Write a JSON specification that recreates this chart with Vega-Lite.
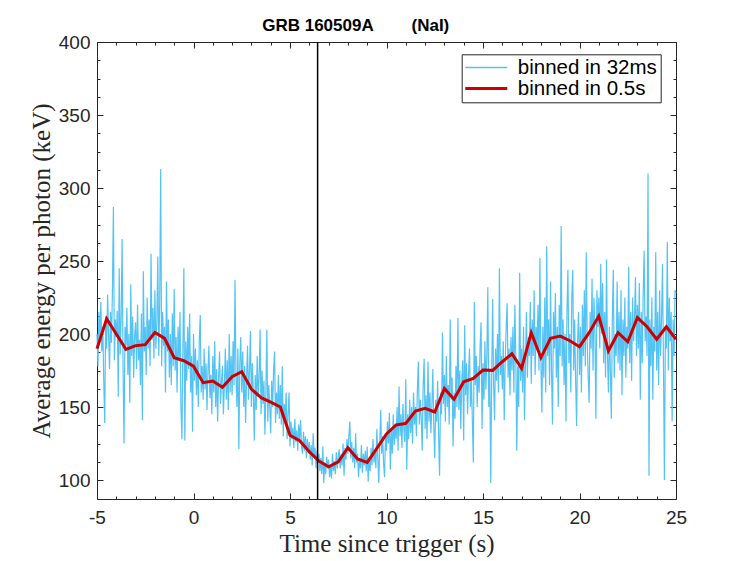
{
  "$schema": "https://vega.github.io/schema/vega-lite/v6.json",
  "width": 579,
  "height": 457,
  "autosize": {"type": "none"},
  "padding": {"left": 97, "top": 42, "right": 71, "bottom": 62},
  "background": "white",
  "datasets": {
    "coarse": [
      {"t": -5, "e": 190}, {"t": -4.5, "e": 210.5}, {"t": -4, "e": 200}, {"t": -3.5, "e": 189.5},
      {"t": -3, "e": 192}, {"t": -2.5, "e": 192.7}, {"t": -2, "e": 201}, {"t": -1.5, "e": 197},
      {"t": -1, "e": 183.8}, {"t": -0.5, "e": 181.7}, {"t": 0, "e": 178}, {"t": 0.5, "e": 166.7},
      {"t": 1, "e": 167.8}, {"t": 1.5, "e": 163.5}, {"t": 2, "e": 170.8}, {"t": 2.5, "e": 174.2},
      {"t": 3, "e": 162.3}, {"t": 3.5, "e": 156.4}, {"t": 4, "e": 153.4}, {"t": 4.5, "e": 150},
      {"t": 5, "e": 130.6}, {"t": 5.5, "e": 126.9}, {"t": 6, "e": 119.4}, {"t": 6.5, "e": 113},
      {"t": 7, "e": 109.1}, {"t": 7.5, "e": 112.5}, {"t": 8, "e": 122.1}, {"t": 8.5, "e": 114.4},
      {"t": 9, "e": 112.1}, {"t": 9.5, "e": 121.7}, {"t": 10, "e": 131.5}, {"t": 10.5, "e": 137.7},
      {"t": 11, "e": 138.8}, {"t": 11.5, "e": 147.3}, {"t": 12, "e": 149.1}, {"t": 12.5, "e": 146.6},
      {"t": 13, "e": 162.6}, {"t": 13.5, "e": 155.3}, {"t": 14, "e": 167.3}, {"t": 14.5, "e": 169.6},
      {"t": 15, "e": 175.3}, {"t": 15.5, "e": 175.1}, {"t": 16, "e": 181}, {"t": 16.5, "e": 186.5},
      {"t": 17, "e": 176.5}, {"t": 17.5, "e": 200.9}, {"t": 18, "e": 183.8}, {"t": 18.5, "e": 197},
      {"t": 19, "e": 198.6}, {"t": 19.5, "e": 195.4}, {"t": 20, "e": 191.3}, {"t": 20.5, "e": 200.9},
      {"t": 21, "e": 212.3}, {"t": 21.5, "e": 188.4}, {"t": 22, "e": 200.9}, {"t": 22.5, "e": 194.7},
      {"t": 23, "e": 211.2}, {"t": 23.5, "e": 205}, {"t": 24, "e": 196.4}, {"t": 24.5, "e": 205},
      {"t": 25, "e": 196.4}
    ],
    "trigger": [{"t": 6.43}],
    "fine": [
      {"t": -5, "e": 200}, {"t": -4.95, "e": 178}, {"t": -4.9, "e": 215}, {"t": -4.85, "e": 195}, {"t": -4.8, "e": 222},
      {"t": -4.75, "e": 188}, {"t": -4.7, "e": 205}, {"t": -4.65, "e": 168}, {"t": -4.6, "e": 139}, {"t": -4.55, "e": 212},
      {"t": -4.5, "e": 190}, {"t": -4.45, "e": 227}, {"t": -4.4, "e": 200}, {"t": -4.35, "e": 176}, {"t": -4.3, "e": 215},
      {"t": -4.25, "e": 194}, {"t": -4.2, "e": 230}, {"t": -4.15, "e": 287}, {"t": -4.1, "e": 182}, {"t": -4.05, "e": 210},
      {"t": -4, "e": 198}, {"t": -3.95, "e": 216}, {"t": -3.9, "e": 157}, {"t": -3.85, "e": 245}, {"t": -3.8, "e": 186},
      {"t": -3.75, "e": 210}, {"t": -3.7, "e": 265}, {"t": -3.65, "e": 178}, {"t": -3.6, "e": 125}, {"t": -3.55, "e": 205},
      {"t": -3.5, "e": 192}, {"t": -3.45, "e": 218}, {"t": -3.4, "e": 172}, {"t": -3.35, "e": 200}, {"t": -3.3, "e": 153},
      {"t": -3.25, "e": 234}, {"t": -3.2, "e": 185}, {"t": -3.15, "e": 212}, {"t": -3.1, "e": 170}, {"t": -3.05, "e": 199},
      {"t": -3, "e": 208}, {"t": -2.95, "e": 176}, {"t": -2.9, "e": 220}, {"t": -2.85, "e": 182}, {"t": -2.8, "e": 196},
      {"t": -2.75, "e": 165}, {"t": -2.7, "e": 214}, {"t": -2.65, "e": 141}, {"t": -2.6, "e": 243}, {"t": -2.55, "e": 188},
      {"t": -2.5, "e": 205}, {"t": -2.45, "e": 172}, {"t": -2.4, "e": 225}, {"t": -2.35, "e": 190}, {"t": -2.3, "e": 210},
      {"t": -2.25, "e": 178}, {"t": -2.2, "e": 255}, {"t": -2.15, "e": 196}, {"t": -2.1, "e": 218}, {"t": -2.05, "e": 183},
      {"t": -2, "e": 230}, {"t": -1.95, "e": 190}, {"t": -1.9, "e": 207}, {"t": -1.85, "e": 253}, {"t": -1.8, "e": 185},
      {"t": -1.75, "e": 222}, {"t": -1.7, "e": 313}, {"t": -1.65, "e": 178}, {"t": -1.6, "e": 215}, {"t": -1.55, "e": 192},
      {"t": -1.5, "e": 205}, {"t": -1.45, "e": 160}, {"t": -1.4, "e": 236}, {"t": -1.35, "e": 188}, {"t": -1.3, "e": 210},
      {"t": -1.25, "e": 170}, {"t": -1.2, "e": 200}, {"t": -1.15, "e": 165}, {"t": -1.1, "e": 214}, {"t": -1.05, "e": 178},
      {"t": -1, "e": 231}, {"t": -0.95, "e": 175}, {"t": -0.9, "e": 198}, {"t": -0.85, "e": 160}, {"t": -0.8, "e": 205},
      {"t": -0.75, "e": 182}, {"t": -0.7, "e": 215}, {"t": -0.65, "e": 150}, {"t": -0.6, "e": 128}, {"t": -0.55, "e": 190},
      {"t": -0.5, "e": 245}, {"t": -0.45, "e": 127}, {"t": -0.4, "e": 195}, {"t": -0.35, "e": 168}, {"t": -0.3, "e": 205},
      {"t": -0.25, "e": 176}, {"t": -0.2, "e": 214}, {"t": -0.15, "e": 160}, {"t": -0.1, "e": 185}, {"t": -0.05, "e": 133},
      {"t": 0, "e": 200}, {"t": 0.05, "e": 168}, {"t": 0.1, "e": 190}, {"t": 0.15, "e": 158}, {"t": 0.2, "e": 182},
      {"t": 0.25, "e": 150}, {"t": 0.3, "e": 196}, {"t": 0.35, "e": 213}, {"t": 0.4, "e": 160}, {"t": 0.45, "e": 178},
      {"t": 0.5, "e": 155}, {"t": 0.55, "e": 190}, {"t": 0.6, "e": 162}, {"t": 0.65, "e": 180}, {"t": 0.7, "e": 148},
      {"t": 0.75, "e": 175}, {"t": 0.8, "e": 192}, {"t": 0.85, "e": 156}, {"t": 0.9, "e": 172}, {"t": 0.95, "e": 145},
      {"t": 1, "e": 185}, {"t": 1.05, "e": 160}, {"t": 1.1, "e": 195}, {"t": 1.15, "e": 150}, {"t": 1.2, "e": 176},
      {"t": 1.25, "e": 140}, {"t": 1.3, "e": 170}, {"t": 1.35, "e": 188}, {"t": 1.4, "e": 152}, {"t": 1.45, "e": 168},
      {"t": 1.5, "e": 178}, {"t": 1.55, "e": 145}, {"t": 1.6, "e": 165}, {"t": 1.65, "e": 190}, {"t": 1.7, "e": 155},
      {"t": 1.75, "e": 182}, {"t": 1.8, "e": 148}, {"t": 1.85, "e": 200}, {"t": 1.9, "e": 160}, {"t": 1.95, "e": 185},
      {"t": 2, "e": 158}, {"t": 2.05, "e": 195}, {"t": 2.1, "e": 165}, {"t": 2.15, "e": 237}, {"t": 2.2, "e": 172},
      {"t": 2.25, "e": 150}, {"t": 2.3, "e": 190}, {"t": 2.35, "e": 121}, {"t": 2.4, "e": 180}, {"t": 2.45, "e": 198},
      {"t": 2.5, "e": 160}, {"t": 2.55, "e": 188}, {"t": 2.6, "e": 150}, {"t": 2.65, "e": 178}, {"t": 2.7, "e": 139},
      {"t": 2.75, "e": 170}, {"t": 2.8, "e": 192}, {"t": 2.85, "e": 155}, {"t": 2.9, "e": 175}, {"t": 2.95, "e": 202},
      {"t": 3, "e": 150}, {"t": 3.05, "e": 180}, {"t": 3.1, "e": 160}, {"t": 3.15, "e": 127}, {"t": 3.2, "e": 172},
      {"t": 3.25, "e": 148}, {"t": 3.3, "e": 185}, {"t": 3.35, "e": 158}, {"t": 3.4, "e": 170}, {"t": 3.45, "e": 203},
      {"t": 3.5, "e": 145}, {"t": 3.55, "e": 175}, {"t": 3.6, "e": 152}, {"t": 3.65, "e": 168}, {"t": 3.7, "e": 131},
      {"t": 3.75, "e": 160}, {"t": 3.8, "e": 203}, {"t": 3.85, "e": 140}, {"t": 3.9, "e": 165}, {"t": 3.95, "e": 150},
      {"t": 4, "e": 132}, {"t": 4.05, "e": 168}, {"t": 4.1, "e": 150}, {"t": 4.15, "e": 175}, {"t": 4.2, "e": 188},
      {"t": 4.25, "e": 139}, {"t": 4.3, "e": 160}, {"t": 4.35, "e": 145}, {"t": 4.4, "e": 172}, {"t": 4.45, "e": 142},
      {"t": 4.5, "e": 165}, {"t": 4.55, "e": 138}, {"t": 4.6, "e": 178}, {"t": 4.65, "e": 130}, {"t": 4.7, "e": 152},
      {"t": 4.75, "e": 140}, {"t": 4.8, "e": 160}, {"t": 4.85, "e": 128}, {"t": 4.9, "e": 145}, {"t": 4.95, "e": 160},
      {"t": 5, "e": 123}, {"t": 5.05, "e": 140}, {"t": 5.1, "e": 128}, {"t": 5.15, "e": 136}, {"t": 5.2, "e": 122},
      {"t": 5.25, "e": 142}, {"t": 5.3, "e": 126}, {"t": 5.35, "e": 134}, {"t": 5.4, "e": 120}, {"t": 5.45, "e": 138},
      {"t": 5.5, "e": 128}, {"t": 5.55, "e": 141}, {"t": 5.6, "e": 122}, {"t": 5.65, "e": 118}, {"t": 5.7, "e": 133},
      {"t": 5.75, "e": 120}, {"t": 5.8, "e": 130}, {"t": 5.85, "e": 115}, {"t": 5.9, "e": 128}, {"t": 5.95, "e": 118},
      {"t": 6, "e": 126}, {"t": 6.05, "e": 114}, {"t": 6.1, "e": 124}, {"t": 6.15, "e": 110}, {"t": 6.2, "e": 132},
      {"t": 6.25, "e": 116}, {"t": 6.3, "e": 122}, {"t": 6.35, "e": 108}, {"t": 6.4, "e": 120}, {"t": 6.45, "e": 112},
      {"t": 6.5, "e": 118}, {"t": 6.55, "e": 106}, {"t": 6.6, "e": 115}, {"t": 6.65, "e": 104}, {"t": 6.7, "e": 123},
      {"t": 6.75, "e": 98}, {"t": 6.8, "e": 112}, {"t": 6.85, "e": 104}, {"t": 6.9, "e": 116}, {"t": 6.95, "e": 108},
      {"t": 7, "e": 114}, {"t": 7.05, "e": 102}, {"t": 7.1, "e": 110}, {"t": 7.15, "e": 101}, {"t": 7.2, "e": 118},
      {"t": 7.25, "e": 106}, {"t": 7.3, "e": 113}, {"t": 7.35, "e": 104}, {"t": 7.4, "e": 119}, {"t": 7.45, "e": 108},
      {"t": 7.5, "e": 116}, {"t": 7.55, "e": 121}, {"t": 7.6, "e": 108}, {"t": 7.65, "e": 118}, {"t": 7.7, "e": 110},
      {"t": 7.75, "e": 125}, {"t": 7.8, "e": 103}, {"t": 7.85, "e": 122}, {"t": 7.9, "e": 114}, {"t": 7.95, "e": 128},
      {"t": 8, "e": 118}, {"t": 8.05, "e": 130}, {"t": 8.1, "e": 140}, {"t": 8.15, "e": 115}, {"t": 8.2, "e": 126},
      {"t": 8.25, "e": 112}, {"t": 8.3, "e": 122}, {"t": 8.35, "e": 108}, {"t": 8.4, "e": 132}, {"t": 8.45, "e": 112},
      {"t": 8.5, "e": 118}, {"t": 8.55, "e": 102}, {"t": 8.6, "e": 115}, {"t": 8.65, "e": 108}, {"t": 8.7, "e": 124},
      {"t": 8.75, "e": 105}, {"t": 8.8, "e": 118}, {"t": 8.85, "e": 110}, {"t": 8.9, "e": 120}, {"t": 8.95, "e": 106},
      {"t": 9, "e": 123}, {"t": 9.05, "e": 99}, {"t": 9.1, "e": 114}, {"t": 9.15, "e": 106}, {"t": 9.2, "e": 122},
      {"t": 9.25, "e": 110}, {"t": 9.3, "e": 128}, {"t": 9.35, "e": 112}, {"t": 9.4, "e": 120}, {"t": 9.45, "e": 108},
      {"t": 9.5, "e": 135}, {"t": 9.55, "e": 115}, {"t": 9.6, "e": 98}, {"t": 9.65, "e": 125}, {"t": 9.7, "e": 148},
      {"t": 9.75, "e": 118}, {"t": 9.8, "e": 130}, {"t": 9.85, "e": 111}, {"t": 9.9, "e": 102}, {"t": 9.95, "e": 132},
      {"t": 10, "e": 120}, {"t": 10.05, "e": 140}, {"t": 10.1, "e": 125}, {"t": 10.15, "e": 146}, {"t": 10.2, "e": 107},
      {"t": 10.25, "e": 135}, {"t": 10.3, "e": 118}, {"t": 10.35, "e": 145}, {"t": 10.4, "e": 124}, {"t": 10.45, "e": 138},
      {"t": 10.5, "e": 128}, {"t": 10.55, "e": 150}, {"t": 10.6, "e": 120}, {"t": 10.65, "e": 164}, {"t": 10.7, "e": 130},
      {"t": 10.75, "e": 145}, {"t": 10.8, "e": 122}, {"t": 10.85, "e": 152}, {"t": 10.9, "e": 135}, {"t": 10.95, "e": 126},
      {"t": 11, "e": 169}, {"t": 11.05, "e": 107}, {"t": 11.1, "e": 145}, {"t": 11.15, "e": 128}, {"t": 11.2, "e": 155},
      {"t": 11.25, "e": 132}, {"t": 11.3, "e": 150}, {"t": 11.35, "e": 125}, {"t": 11.4, "e": 160}, {"t": 11.45, "e": 138},
      {"t": 11.5, "e": 150}, {"t": 11.55, "e": 130}, {"t": 11.6, "e": 162}, {"t": 11.65, "e": 181}, {"t": 11.7, "e": 138},
      {"t": 11.75, "e": 155}, {"t": 11.8, "e": 142}, {"t": 11.85, "e": 120}, {"t": 11.9, "e": 165}, {"t": 11.95, "e": 183},
      {"t": 12, "e": 135}, {"t": 12.05, "e": 158}, {"t": 12.1, "e": 128}, {"t": 12.15, "e": 181}, {"t": 12.2, "e": 140},
      {"t": 12.25, "e": 160}, {"t": 12.3, "e": 132}, {"t": 12.35, "e": 150}, {"t": 12.4, "e": 176}, {"t": 12.45, "e": 138},
      {"t": 12.5, "e": 115}, {"t": 12.55, "e": 155}, {"t": 12.6, "e": 140}, {"t": 12.65, "e": 168}, {"t": 12.7, "e": 130},
      {"t": 12.75, "e": 103}, {"t": 12.8, "e": 160}, {"t": 12.85, "e": 145}, {"t": 12.9, "e": 201}, {"t": 12.95, "e": 152},
      {"t": 13, "e": 172}, {"t": 13.05, "e": 140}, {"t": 13.1, "e": 185}, {"t": 13.15, "e": 150}, {"t": 13.2, "e": 165},
      {"t": 13.25, "e": 138}, {"t": 13.3, "e": 210}, {"t": 13.35, "e": 155}, {"t": 13.4, "e": 170}, {"t": 13.45, "e": 123},
      {"t": 13.5, "e": 160}, {"t": 13.55, "e": 142}, {"t": 13.6, "e": 178}, {"t": 13.65, "e": 150}, {"t": 13.7, "e": 211},
      {"t": 13.75, "e": 148}, {"t": 13.8, "e": 175}, {"t": 13.85, "e": 135}, {"t": 13.9, "e": 168}, {"t": 13.95, "e": 182},
      {"t": 14, "e": 127}, {"t": 14.05, "e": 206}, {"t": 14.1, "e": 158}, {"t": 14.15, "e": 180}, {"t": 14.2, "e": 145},
      {"t": 14.25, "e": 172}, {"t": 14.3, "e": 190}, {"t": 14.35, "e": 150}, {"t": 14.4, "e": 168}, {"t": 14.45, "e": 140},
      {"t": 14.5, "e": 112}, {"t": 14.55, "e": 222}, {"t": 14.6, "e": 165}, {"t": 14.65, "e": 185}, {"t": 14.7, "e": 150},
      {"t": 14.75, "e": 178}, {"t": 14.8, "e": 160}, {"t": 14.85, "e": 192}, {"t": 14.9, "e": 208}, {"t": 14.95, "e": 135},
      {"t": 15, "e": 180}, {"t": 15.05, "e": 155}, {"t": 15.1, "e": 195}, {"t": 15.15, "e": 162}, {"t": 15.2, "e": 185},
      {"t": 15.25, "e": 232}, {"t": 15.3, "e": 150}, {"t": 15.35, "e": 175}, {"t": 15.4, "e": 98}, {"t": 15.45, "e": 170},
      {"t": 15.5, "e": 224}, {"t": 15.55, "e": 165}, {"t": 15.6, "e": 141}, {"t": 15.65, "e": 190}, {"t": 15.7, "e": 168},
      {"t": 15.75, "e": 200}, {"t": 15.8, "e": 160}, {"t": 15.85, "e": 245}, {"t": 15.9, "e": 172}, {"t": 15.95, "e": 185},
      {"t": 16, "e": 162}, {"t": 16.05, "e": 195}, {"t": 16.1, "e": 141}, {"t": 16.15, "e": 180}, {"t": 16.2, "e": 205},
      {"t": 16.25, "e": 221}, {"t": 16.3, "e": 170}, {"t": 16.35, "e": 190}, {"t": 16.4, "e": 158}, {"t": 16.45, "e": 198},
      {"t": 16.5, "e": 175}, {"t": 16.55, "e": 205}, {"t": 16.6, "e": 160}, {"t": 16.65, "e": 220}, {"t": 16.7, "e": 185},
      {"t": 16.75, "e": 120}, {"t": 16.8, "e": 178}, {"t": 16.85, "e": 150}, {"t": 16.9, "e": 242}, {"t": 16.95, "e": 168},
      {"t": 17, "e": 190}, {"t": 17.05, "e": 160}, {"t": 17.1, "e": 205}, {"t": 17.15, "e": 141}, {"t": 17.2, "e": 180},
      {"t": 17.25, "e": 215}, {"t": 17.3, "e": 170}, {"t": 17.35, "e": 198}, {"t": 17.4, "e": 185}, {"t": 17.45, "e": 222},
      {"t": 17.5, "e": 166}, {"t": 17.55, "e": 210}, {"t": 17.6, "e": 185}, {"t": 17.65, "e": 230}, {"t": 17.7, "e": 172},
      {"t": 17.75, "e": 205}, {"t": 17.8, "e": 190}, {"t": 17.85, "e": 220}, {"t": 17.9, "e": 175}, {"t": 17.95, "e": 252},
      {"t": 18, "e": 180}, {"t": 18.05, "e": 146}, {"t": 18.1, "e": 205}, {"t": 18.15, "e": 170}, {"t": 18.2, "e": 225},
      {"t": 18.25, "e": 160}, {"t": 18.3, "e": 260}, {"t": 18.35, "e": 185}, {"t": 18.4, "e": 210}, {"t": 18.45, "e": 165},
      {"t": 18.5, "e": 236}, {"t": 18.55, "e": 175}, {"t": 18.6, "e": 138}, {"t": 18.65, "e": 215}, {"t": 18.7, "e": 190},
      {"t": 18.75, "e": 228}, {"t": 18.8, "e": 170}, {"t": 18.85, "e": 205}, {"t": 18.9, "e": 150}, {"t": 18.95, "e": 220},
      {"t": 19, "e": 185}, {"t": 19.05, "e": 274}, {"t": 19.1, "e": 178}, {"t": 19.15, "e": 210}, {"t": 19.2, "e": 165},
      {"t": 19.25, "e": 200}, {"t": 19.3, "e": 140}, {"t": 19.35, "e": 215}, {"t": 19.4, "e": 244}, {"t": 19.45, "e": 180},
      {"t": 19.5, "e": 200}, {"t": 19.55, "e": 160}, {"t": 19.6, "e": 225}, {"t": 19.65, "e": 244}, {"t": 19.7, "e": 175},
      {"t": 19.75, "e": 210}, {"t": 19.8, "e": 168}, {"t": 19.85, "e": 137}, {"t": 19.9, "e": 195}, {"t": 19.95, "e": 215},
      {"t": 20, "e": 172}, {"t": 20.05, "e": 205}, {"t": 20.1, "e": 160}, {"t": 20.15, "e": 220}, {"t": 20.2, "e": 185},
      {"t": 20.25, "e": 230}, {"t": 20.3, "e": 178}, {"t": 20.35, "e": 256}, {"t": 20.4, "e": 195}, {"t": 20.45, "e": 170},
      {"t": 20.5, "e": 153}, {"t": 20.55, "e": 215}, {"t": 20.6, "e": 190}, {"t": 20.65, "e": 238}, {"t": 20.7, "e": 175},
      {"t": 20.75, "e": 225}, {"t": 20.8, "e": 200}, {"t": 20.85, "e": 142}, {"t": 20.9, "e": 230}, {"t": 20.95, "e": 205},
      {"t": 21, "e": 225}, {"t": 21.05, "e": 190}, {"t": 21.1, "e": 248}, {"t": 21.15, "e": 200}, {"t": 21.2, "e": 235},
      {"t": 21.25, "e": 180}, {"t": 21.3, "e": 215}, {"t": 21.35, "e": 170}, {"t": 21.4, "e": 251}, {"t": 21.45, "e": 185},
      {"t": 21.5, "e": 160}, {"t": 21.55, "e": 205}, {"t": 21.6, "e": 175}, {"t": 21.65, "e": 142}, {"t": 21.7, "e": 210},
      {"t": 21.75, "e": 244}, {"t": 21.8, "e": 170}, {"t": 21.85, "e": 200}, {"t": 21.9, "e": 185}, {"t": 21.95, "e": 236},
      {"t": 22, "e": 180}, {"t": 22.05, "e": 215}, {"t": 22.1, "e": 175}, {"t": 22.15, "e": 230}, {"t": 22.2, "e": 158},
      {"t": 22.25, "e": 210}, {"t": 22.3, "e": 185}, {"t": 22.35, "e": 225}, {"t": 22.4, "e": 170}, {"t": 22.45, "e": 205},
      {"t": 22.5, "e": 190}, {"t": 22.55, "e": 246}, {"t": 22.6, "e": 180}, {"t": 22.65, "e": 215}, {"t": 22.7, "e": 168},
      {"t": 22.75, "e": 225}, {"t": 22.8, "e": 195}, {"t": 22.85, "e": 210}, {"t": 22.9, "e": 239}, {"t": 22.95, "e": 185},
      {"t": 23, "e": 220}, {"t": 23.05, "e": 190}, {"t": 23.1, "e": 235}, {"t": 23.15, "e": 155}, {"t": 23.2, "e": 215},
      {"t": 23.25, "e": 180}, {"t": 23.3, "e": 228}, {"t": 23.35, "e": 257}, {"t": 23.4, "e": 195}, {"t": 23.45, "e": 212},
      {"t": 23.5, "e": 185}, {"t": 23.55, "e": 310}, {"t": 23.6, "e": 103}, {"t": 23.65, "e": 210}, {"t": 23.7, "e": 178},
      {"t": 23.75, "e": 225}, {"t": 23.8, "e": 155}, {"t": 23.85, "e": 205}, {"t": 23.9, "e": 188}, {"t": 23.95, "e": 256},
      {"t": 24, "e": 175}, {"t": 24.05, "e": 215}, {"t": 24.1, "e": 165}, {"t": 24.15, "e": 230}, {"t": 24.2, "e": 185},
      {"t": 24.25, "e": 210}, {"t": 24.3, "e": 248}, {"t": 24.35, "e": 180}, {"t": 24.4, "e": 100}, {"t": 24.45, "e": 205},
      {"t": 24.5, "e": 190}, {"t": 24.55, "e": 263}, {"t": 24.6, "e": 175}, {"t": 24.65, "e": 225}, {"t": 24.7, "e": 195},
      {"t": 24.75, "e": 215}, {"t": 24.8, "e": 140}, {"t": 24.85, "e": 210}, {"t": 24.9, "e": 185}, {"t": 24.95, "e": 230},
      {"t": 25, "e": 228}
    ]
  },
  "layer": [
    {
      "data": {"name": "fine"},
      "mark": {"type": "line", "strokeWidth": 1.2},
      "encoding": {
        "x": {
          "field": "t",
          "type": "quantitative",
          "scale": {"domain": [-5, 25], "nice": false, "zero": false},
          "axis": {
            "orient": "bottom",
            "values": [-5, -4, -3, -2, -1, 0, 1, 2, 3, 4, 5, 6, 7, 8, 9, 10, 11, 12, 13, 14, 15, 16, 17, 18, 19, 20, 21, 22, 23, 24, 25],
            "labelExpr": "datum.value % 5 === 0 ? '' + datum.value : ''",
            "tickSize": {"condition": {"test": "datum.value % 5 === 0", "value": -6}, "value": -3},
            "labelPadding": 15,
            "labelOverlap": false,
            "labelFlush": false,
            "title": "Time since trigger (s)",
            "titlePadding": 1
          }
        },
        "y": {
          "field": "e",
          "type": "quantitative",
          "scale": {"domain": [87, 400], "nice": false, "zero": false},
          "axis": {
            "orient": "left",
            "values": [100, 112.5, 125, 137.5, 150, 162.5, 175, 187.5, 200, 212.5, 225, 237.5, 250, 262.5, 275, 287.5, 300, 312.5, 325, 337.5, 350, 362.5, 375, 387.5, 400],
            "labelExpr": "datum.value % 50 === 0 ? '' + datum.value : ''",
            "tickSize": {"condition": {"test": "datum.value % 50 === 0", "value": -6}, "value": -3},
            "labelPadding": 13,
            "labelOverlap": false,
            "labelFlush": false,
            "title": "Average energy per photon (keV)",
            "titlePadding": 4
          }
        },
        "color": {
          "datum": "binned in 32ms",
          "type": "nominal",
          "scale": {"domain": ["binned in 32ms", "binned in 0.5s"], "range": ["#53c3f5", "#cc0000"]},
          "legend": {
            "title": null,
            "orient": "none",
            "legendX": 364.7,
            "legendY": 12.3,
            "symbolType": "stroke",
            "symbolSize": 1764,
            "symbolOffset": 11.3,
            "labelFont": "Liberation Sans",
            "labelFontSize": 20.5,
            "labelColor": "black",
            "labelOffset": 21.3,
            "rowPadding": 0,
            "padding": 3,
            "strokeColor": "#262626",
            "fillColor": "white",
            "encode": {
              "symbols": {"update": {"strokeWidth": {"signal": "datum.value === 'binned in 0.5s' ? 3 : 1.4"}}}
            }
          }
        }
      }
    },
    {
      "data": {"name": "coarse"},
      "mark": {"type": "line", "strokeWidth": 3},
      "encoding": {
        "x": {
          "field": "t",
          "type": "quantitative",
          "axis": {
            "orient": "top",
            "values": [-5, -4, -3, -2, -1, 0, 1, 2, 3, 4, 5, 6, 7, 8, 9, 10, 11, 12, 13, 14, 15, 16, 17, 18, 19, 20, 21, 22, 23, 24, 25],
            "labels": false,
            "tickSize": {"condition": {"test": "datum.value % 5 === 0", "value": -6}, "value": -3},
            "title": "GRB 160509A",
            "titleX": 164.7,
            "titleY": -12,
            "titleAlign": "left",
            "titleBaseline": "alphabetic",
            "titleFont": "Liberation Sans",
            "titleFontSize": 17,
            "titleFontWeight": "bold",
            "titleColor": "black"
          }
        },
        "y": {
          "field": "e",
          "type": "quantitative",
          "axis": {
            "orient": "right",
            "values": [100, 112.5, 125, 137.5, 150, 162.5, 175, 187.5, 200, 212.5, 225, 237.5, 250, 262.5, 275, 287.5, 300, 312.5, 325, 337.5, 350, 362.5, 375, 387.5, 400],
            "labels": false,
            "tickSize": {"condition": {"test": "datum.value % 50 === 0", "value": -6}, "value": -3},
            "title": null
          }
        },
        "color": {"datum": "binned in 0.5s", "type": "nominal"}
      }
    },
    {
      "data": {"name": "trigger"},
      "mark": {"type": "rule", "color": "black", "strokeWidth": 1.5},
      "encoding": {
        "x": {
          "field": "t",
          "type": "quantitative",
          "axis": {
            "orient": "top",
            "labels": false,
            "ticks": false,
            "domain": false,
            "title": "(NaI)",
            "titleX": 314,
            "titleY": -11.3,
            "titleAlign": "left",
            "titleBaseline": "alphabetic",
            "titleFont": "Liberation Sans",
            "titleFontSize": 17,
            "titleFontWeight": "bold",
            "titleColor": "black"
          }
        }
      }
    }
  ],
  "resolve": {"axis": {"x": "independent", "y": "independent"}},
  "config": {
    "view": {"stroke": null},
    "axis": {
      "grid": false,
      "domainColor": "#262626",
      "domainWidth": 1,
      "tickColor": "#262626",
      "tickWidth": 1,
      "labelColor": "#262626",
      "labelFont": "Liberation Sans",
      "labelFontSize": 19,
      "titleFont": "Liberation Serif",
      "titleFontSize": 25,
      "titleFontWeight": "normal",
      "titleColor": "#262626"
    }
  }
}
